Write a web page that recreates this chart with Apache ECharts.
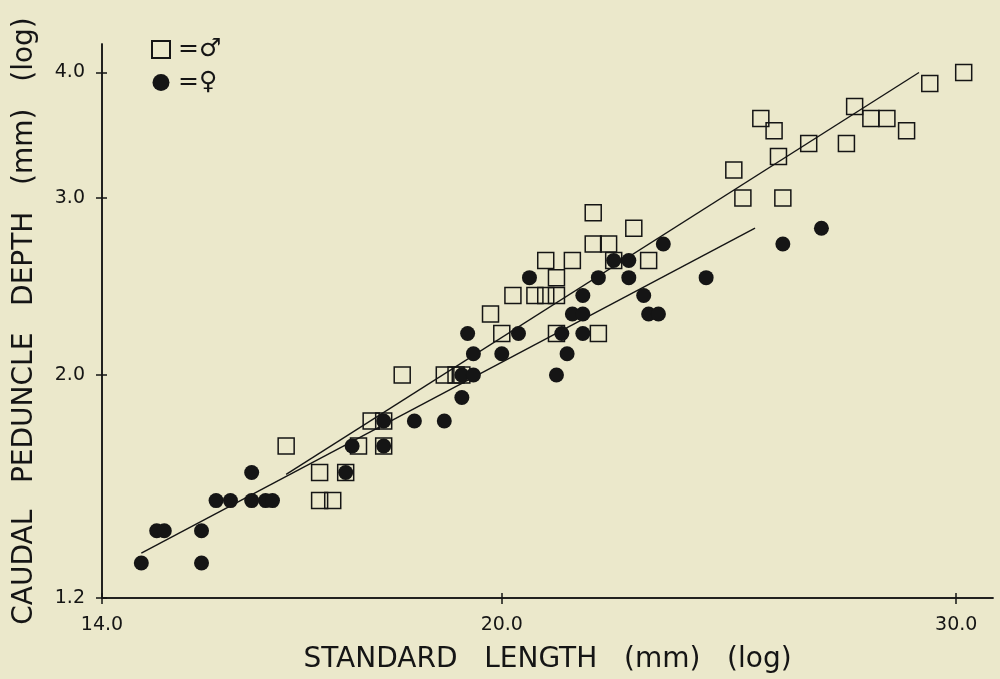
<!DOCTYPE html>
<html><head><meta charset="utf-8">
<script src="https://cdn.jsdelivr.net/npm/echarts@6/dist/echarts.min.js"></script>
<style>html,body{margin:0;padding:0;background:#ebe8cb;} #c{width:1000px;height:679px;}</style>
</head><body><div id="c"></div>
<script>
const xTicks = [14, 20, 30];
const yTicks = [1.2, 2.0, 3.0, 4.0];
const maleX = [16.5,17.0,17.0,17.2,17.4,17.6,18.0,17.8,18.0,18.3,19.0,19.2,19.3,20.0,19.8,20.2,20.6,20.8,21.0,21.0,20.8,21.3,21.0,21.8,21.7,21.7,22.0,22.1,22.5,22.8,24.6,24.8,25.2,25.5,25.6,25.7,26.3,27.2,27.4,27.8,28.2,28.7,29.3,30.2];
const maleY = [1.7,1.6,1.5,1.5,1.6,1.7,1.7,1.8,1.8,2.0,2.0,2.0,2.0,2.2,2.3,2.4,2.4,2.4,2.4,2.5,2.6,2.6,2.2,2.2,2.9,2.7,2.7,2.6,2.8,2.6,3.2,3.0,3.6,3.5,3.3,3.0,3.4,3.4,3.7,3.6,3.6,3.5,3.9,4.0];
const femaleX = [14.5,14.7,14.8,15.3,15.3,15.5,15.7,16.0,16.0,16.2,16.3,17.4,17.5,18.0,18.0,18.5,19.0,19.3,19.3,19.5,19.4,19.5,20.0,20.3,20.5,21.0,21.1,21.2,21.3,21.5,21.5,21.5,21.8,22.1,22.4,22.4,22.7,22.8,23.0,23.1,24.0,25.7,26.6];
const femaleY = [1.3,1.4,1.4,1.4,1.3,1.5,1.5,1.6,1.5,1.5,1.5,1.6,1.7,1.7,1.8,1.8,1.8,1.9,2.0,2.0,2.2,2.1,2.1,2.2,2.5,2.0,2.2,2.1,2.3,2.3,2.4,2.2,2.5,2.6,2.6,2.5,2.4,2.3,2.3,2.7,2.5,2.7,2.8];
const maleFitX = [16.5, 29.02];
const maleFitY = [1.593, 4.0];
const femaleFitX = [14.5, 25.07];
const femaleFitY = [1.33, 2.80];

const zip = (a, b) => a.map((v, i) => [v, b[i]]);
const ink = '#151515';
const font = 'DejaVu Sans';

const xBase = {
  type: 'log', logBase: 10, min: 14, max: 31, position: 'bottom',
  axisLine: { show: true, onZero: false, lineStyle: { color: ink, width: 1.5 } },
  splitLine: { show: false }, minorTick: { show: false }
};
const yBase = {
  type: 'log', logBase: 10, min: 1.2, max: 4.27, position: 'left',
  axisLine: { show: true, onZero: false, lineStyle: { color: ink, width: 1.5 } },
  splitLine: { show: false }, minorTick: { show: false }
};

const option = {
  backgroundColor: '#ebe8cb',
  animation: false,
  grid: { left: 102, right: 7, top: 44, bottom: 79 },
  legend: {
    orient: 'vertical', left: 146, top: 32, itemWidth: 18, itemHeight: 17, itemGap: 8,
    data: ['male', 'female'],
    formatter: n => n === 'male' ? '=♂' : '=♀',
    textStyle: { color: ink, fontSize: 25, fontFamily: font, padding: [0, 0, 0, 3] }
  },
  xAxis: [
    Object.assign({}, xBase, {
      name: 'STANDARD   LENGTH   (mm)   (log)', nameLocation: 'middle', nameGap: 48,
      nameTextStyle: { color: ink, fontSize: 28, fontFamily: font },
      axisTick: { show: true, inside: false, length: 6, customValues: xTicks, lineStyle: { color: ink, width: 1.5 } },
      axisLabel: { show: true, customValues: xTicks, margin: 18, color: ink, fontSize: 19, fontFamily: font,
        formatter: v => Number(v).toFixed(1) }
    }),
    Object.assign({}, xBase, {
      axisTick: { show: true, inside: true, length: 5, customValues: xTicks, lineStyle: { color: ink, width: 1.5 } },
      axisLabel: { show: false }
    })
  ],
  yAxis: [
    Object.assign({}, yBase, {
      name: 'CAUDAL   PEDUNCLE   DEPTH   (mm)   (log)', nameLocation: 'middle', nameGap: 63, nameRotate: 90,
      nameTextStyle: { color: ink, fontSize: 28, fontFamily: font },
      axisTick: { show: true, inside: false, length: 6, customValues: yTicks, lineStyle: { color: ink, width: 1.5 } },
      axisLabel: { show: true, customValues: yTicks, margin: 17, color: ink, fontSize: 19, fontFamily: font,
        formatter: v => Number(v).toFixed(1) }
    }),
    Object.assign({}, yBase, {
      axisTick: { show: true, inside: true, length: 5, customValues: yTicks, lineStyle: { color: ink, width: 1.5 } },
      axisLabel: { show: false }
    })
  ],
  series: [
    { name: 'male', type: 'scatter', symbol: 'rect', symbolSize: 16, data: zip(maleX, maleY),
      itemStyle: { color: 'rgba(0,0,0,0)', borderColor: ink, borderWidth: 1.5, opacity: 1 } },
    { name: 'female', type: 'scatter', symbol: 'circle', symbolSize: 15, data: zip(femaleX, femaleY),
      itemStyle: { color: ink, opacity: 1 } },
    { name: 'maleFit', type: 'line', data: zip(maleFitX, maleFitY), symbol: 'none',
      lineStyle: { color: ink, width: 1.4 }, z: 1 },
    { name: 'femaleFit', type: 'line', data: zip(femaleFitX, femaleFitY), symbol: 'none',
      lineStyle: { color: ink, width: 1.4 }, z: 1 }
  ]
};
echarts.init(document.getElementById('c'), null, { renderer: 'canvas' }).setOption(option);
</script>
</body></html>
